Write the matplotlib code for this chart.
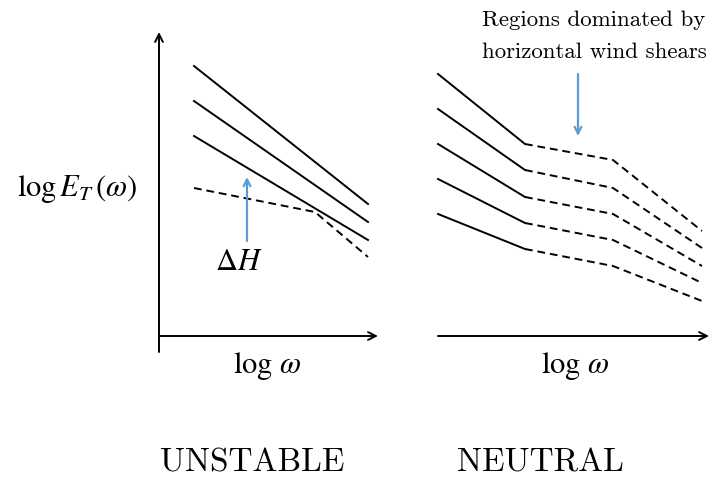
import matplotlib.pyplot as plt
import numpy as np

# schematic coordinates (picture pixels, y grows downward)
# UNSTABLE panel: three solid spectra and one broken dashed spectrum
unstable_x = [194, 368]
unstable_solid = [[67, 205], [102, 223], [137, 241]]
unstable_dash_x = [194, 315, 368]
unstable_dash_y = [189, 213, 258]

# NEUTRAL panel: five spectra, solid up to first break, dashed after
neutral_x = [438, 525, 613, 702]
neutral_y = [
    [75, 145, 161, 232],
    [110, 171, 189, 249],
    [145, 198, 215, 267],
    [180, 224, 241, 284],
    [215, 250, 267, 302],
]

blue = '#5B9BD5'
plt.rcParams['mathtext.fontset'] = 'stix'

fig = plt.figure(figsize=(7.1, 4.81), dpi=100)
ax = fig.add_axes([0, 0, 1, 1])
ax.set_xlim(0, 710)
ax.set_ylim(481, 0)
ax.axis('off')

lw = 1.4
ax_arrow = dict(arrowstyle='->', lw=1.4, color='black', mutation_scale=14,
                shrinkA=0, shrinkB=0)

# axes of the unstable panel
ax.annotate('', xy=(159, 33), xytext=(159, 353), arrowprops=ax_arrow)
ax.annotate('', xy=(378, 337), xytext=(159, 337), arrowprops=ax_arrow)
# x axis of the neutral panel
ax.annotate('', xy=(709, 337), xytext=(438, 337), arrowprops=ax_arrow)

for ys in unstable_solid:
    ax.plot(unstable_x, ys, color='black', lw=lw)
ax.plot(unstable_dash_x, unstable_dash_y, color='black', lw=lw, ls=(0, (4, 2.5)))

for ys in neutral_y:
    ax.plot(neutral_x[:2], ys[:2], color='black', lw=lw)
    ax.plot(neutral_x[1:], ys[1:], color='black', lw=lw, ls=(0, (4, 2.5)))

# blue pointers
ax.annotate('', xy=(247, 178), xytext=(247, 242),
            arrowprops=dict(arrowstyle='->', lw=1.6, color=blue, mutation_scale=12,
                            shrinkA=0, shrinkB=0))
ax.annotate('', xy=(578, 137), xytext=(578, 75),
            arrowprops=dict(arrowstyle='->', lw=1.6, color=blue, mutation_scale=12,
                            shrinkA=0, shrinkB=0))

# labels
ax.text(77, 189, r'$\log E_{T}\,(\omega)$', fontsize=22, ha='center', va='center')
ax.text(239, 262, r'$\Delta H$', fontsize=22, ha='center', va='center')
ax.text(267, 366, r'$\log\,\omega$', fontsize=22, ha='center', va='center')
ax.text(575, 366, r'$\log\,\omega$', fontsize=22, ha='center', va='center')

ax.text(594, 20, 'Regions dominated by', fontfamily='cmr10', fontsize=16.5,
        ha='center', va='center')
ax.text(594, 52, 'horizontal wind shears', fontfamily='cmr10', fontsize=16.5,
        ha='center', va='center')

ax.text(252, 463, 'UNSTABLE', fontfamily='cmr10', fontsize=24, ha='center', va='center')
ax.text(540, 463, 'NEUTRAL', fontfamily='cmr10', fontsize=24, ha='center', va='center')

fig.savefig('out.png', dpi=100)
